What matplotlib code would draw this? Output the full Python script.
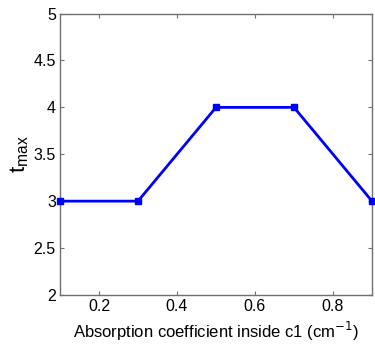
import matplotlib
matplotlib.use("Agg")
import matplotlib.pyplot as plt

absorption = [0.1, 0.3, 0.5, 0.7, 0.9]
t_max = [3, 3, 4, 4, 3]
xticks = [0.2, 0.4, 0.6, 0.8]
yticks = [2, 2.5, 3, 3.5, 4, 4.5, 5]

plt.rcParams['font.family'] = ['Liberation Sans', 'DejaVu Sans']

fig = plt.figure(figsize=(3.75, 3.49), dpi=100)
ax = fig.add_axes([0.16, 0.155, 0.832, 0.806])
ax.plot(absorption, t_max, color='#0000ff', linewidth=2, marker='s',
        markersize=4.5, markerfacecolor='#0000ff', markeredgecolor='#0000ff',
        clip_on=False, zorder=3)
ax.set_xlim(0.1, 0.9)
ax.set_ylim(2, 5)
ax.set_xticks(xticks)
ax.set_xticklabels([f"{v:g}" for v in xticks])
ax.set_yticks(yticks)
ax.set_yticklabels([f"{v:g}" for v in yticks])
for s in ax.spines.values():
    s.set_color('#707070')
    s.set_linewidth(1)
ax.tick_params(direction='in', length=3, color='#707070', labelsize=11.5, pad=3, top=True, right=True, labeltop=False, labelright=False)
ax.set_xlabel('Absorption coefficient inside c1 (cm$^{-1}$)', fontsize=12, labelpad=4)
ax.set_ylabel('t$_{\\mathregular{max}}$', fontsize=16, labelpad=2)
fig.savefig('out.png', dpi=100)
